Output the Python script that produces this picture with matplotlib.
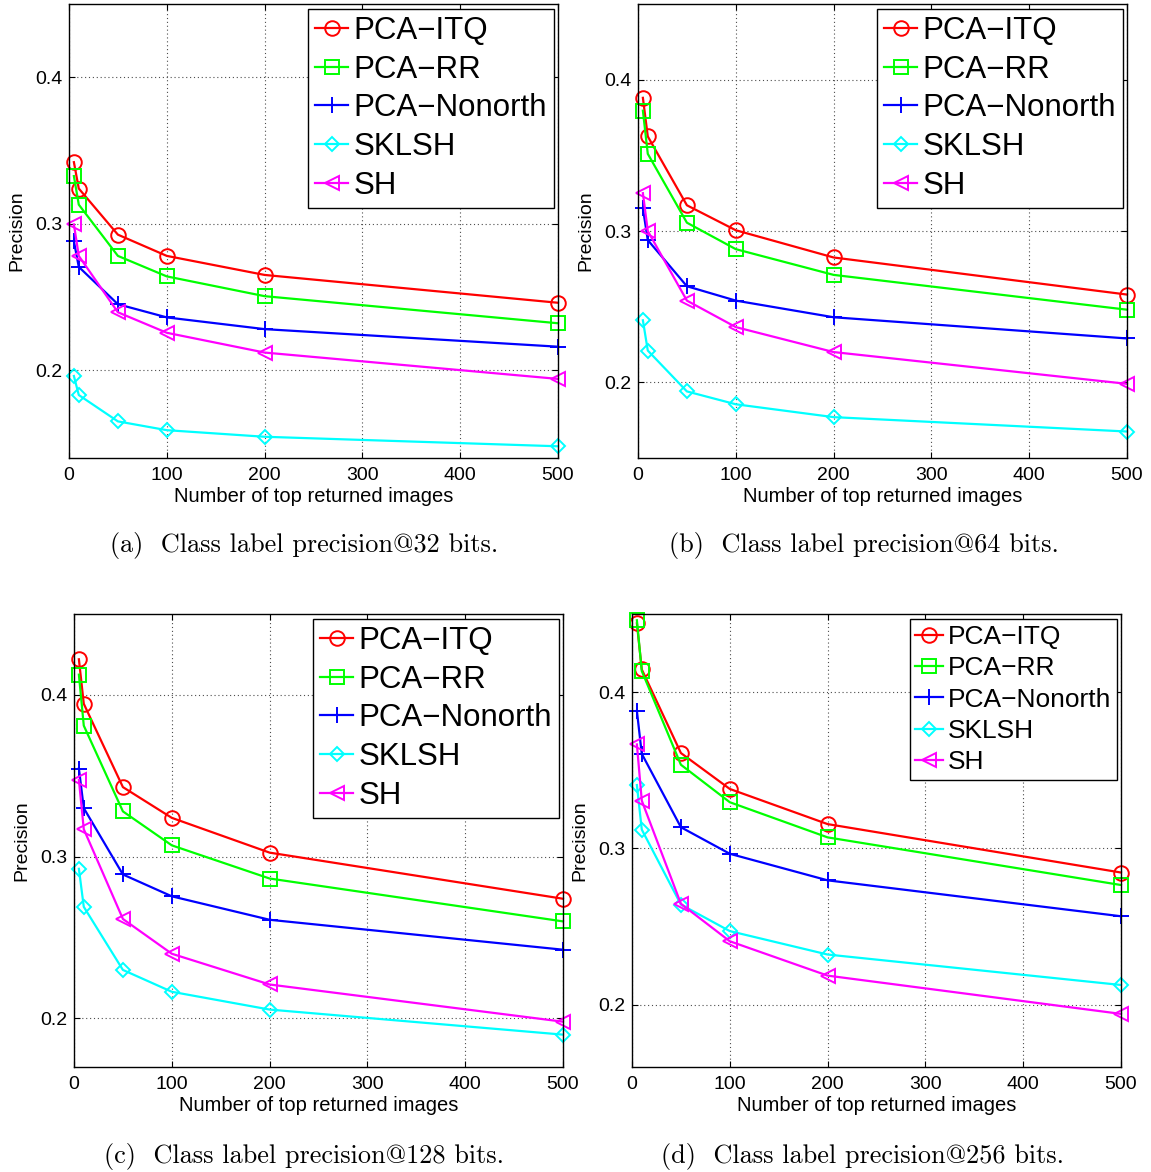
import matplotlib
matplotlib.use("Agg")
import matplotlib.pyplot as plt

# number of top returned images
x_top = [5, 10, 50, 100, 200, 500]

# 32 bits
itq_32 = [0.342, 0.324, 0.2925, 0.278, 0.265, 0.246]
rr_32 = [0.3325, 0.313, 0.278, 0.264, 0.2505, 0.232]
nonorth_32 = [0.288, 0.2705, 0.245, 0.236, 0.228, 0.216]
sklsh_32 = [0.196, 0.183, 0.165, 0.159, 0.1545, 0.148]
sh_32 = [0.2995, 0.278, 0.2395, 0.2255, 0.212, 0.194]

# 64 bits
itq_64 = [0.388, 0.3625, 0.317, 0.3005, 0.2825, 0.258]
rr_64 = [0.3795, 0.351, 0.3055, 0.288, 0.271, 0.248]
nonorth_64 = [0.315, 0.294, 0.2635, 0.254, 0.243, 0.229]
sklsh_64 = [0.241, 0.221, 0.194, 0.1855, 0.177, 0.1675]
sh_64 = [0.325, 0.3, 0.254, 0.2365, 0.22, 0.199]

# 128 bits
itq_128 = [0.422, 0.3945, 0.343, 0.324, 0.3025, 0.274]
rr_128 = [0.4125, 0.381, 0.328, 0.307, 0.2865, 0.26]
nonorth_128 = [0.3545, 0.33, 0.289, 0.2755, 0.261, 0.2425]
sklsh_128 = [0.2925, 0.269, 0.23, 0.2165, 0.2055, 0.19]
sh_128 = [0.3475, 0.317, 0.2615, 0.24, 0.221, 0.198]

# 256 bits
itq_256 = [0.444, 0.4145, 0.361, 0.338, 0.3155, 0.2845]
rr_256 = [0.446, 0.4135, 0.3535, 0.3295, 0.307, 0.2765]
nonorth_256 = [0.388, 0.3605, 0.3135, 0.2965, 0.2795, 0.2565]
sklsh_256 = [0.3405, 0.312, 0.264, 0.247, 0.232, 0.2125]
sh_256 = [0.3665, 0.3305, 0.2645, 0.2405, 0.2185, 0.194]

method_names = ["PCA\u2212ITQ", "PCA\u2212RR", "PCA\u2212Nonorth", "SKLSH", "SH"]
captions = ["(a)  Class label precision@32 bits.",
            "(b)  Class label precision@64 bits.",
            "(c)  Class label precision@128 bits.",
            "(d)  Class label precision@256 bits."]

# matlab style: r, g, b, c, m
styles = [("#ff0000", "o", 10.5), ("#00ff00", "s", 9.5), ("#0000ff", "+", 11.5),
          ("#00ffff", "D", 7.5), ("#ff00ff", "<", 10.5)]

W, H = 1151, 1172
fig = plt.figure(figsize=(W / 100, H / 100), dpi=100)

def px_axes(l, t, r, b):
    return fig.add_axes([l / W, 1 - b / H, (r - l) / W, (b - t) / H])

panels = [
    ((69, 4, 558, 458), (0.14, 0.45), [itq_32, rr_32, nonorth_32, sklsh_32, sh_32], 22.5, (304, 546)),
    ((638, 4, 1127, 458), (0.15, 0.45), [itq_64, rr_64, nonorth_64, sklsh_64, sh_64], 22.5, (864, 546)),
    ((74, 614, 563, 1067), (0.17, 0.45), [itq_128, rr_128, nonorth_128, sklsh_128, sh_128], 22.5, (304, 1156)),
    ((632, 614, 1121, 1067), (0.16, 0.45), [itq_256, rr_256, nonorth_256, sklsh_256, sh_256], 19, (862, 1156)),
]

tick_font = "Liberation Sans"

for i, (box, ylim, series, leg_size, cap_pos) in enumerate(panels):
    ax = px_axes(*box)
    for vals, name, (col, mk, ms) in zip(series, method_names, styles):
        ax.plot(x_top, vals, color=col, marker=mk, markersize=ms,
                markerfacecolor="none", markeredgecolor=col,
                markeredgewidth=1.4, linewidth=1.6, label=name, clip_on=False)
    ax.set_xlim(0, 500)
    ax.set_ylim(*ylim)
    ax.set_xticks([0, 100, 200, 300, 400, 500])
    ax.set_yticks([0.2, 0.3, 0.4])
    ax.grid(True, linestyle=(0, (1, 2.5)), color="0.3", linewidth=0.8)
    ax.tick_params(direction="in", top=True, right=True, length=4,
                   width=0.8, labelsize=14)
    ax.tick_params(axis="x", pad=6.5)
    ax.tick_params(axis="y", pad=5)
    for lab in ax.get_xticklabels() + ax.get_yticklabels():
        lab.set_family(tick_font)
    for sp in ax.spines.values():
        sp.set_linewidth(1.0)
    ax.set_xlabel("Number of top returned images", fontsize=14.5,
                  family=tick_font, labelpad=2)
    ax.set_ylabel("Precision", fontsize=14, family=tick_font, labelpad=7)
    bw, bh = box[2] - box[0], box[3] - box[1]
    leg = ax.legend(loc="upper right", bbox_to_anchor=(1 - 4 / bw, 1 - 5 / bh),
                    borderaxespad=0, prop={"family": tick_font, "size": leg_size},
                    fancybox=False, edgecolor="k", framealpha=1,
                    handlelength=1.05, handletextpad=0.18, labelspacing=0.28,
                    borderpad=0.22)
    leg.get_frame().set_linewidth(1.0)
    fig.text(cap_pos[0] / W, 1 - cap_pos[1] / H, captions[i],
             ha="center", va="center", fontsize=18.9,
             family=["cmr10", "DejaVu Serif"])

fig.savefig("out.png", dpi=100)
